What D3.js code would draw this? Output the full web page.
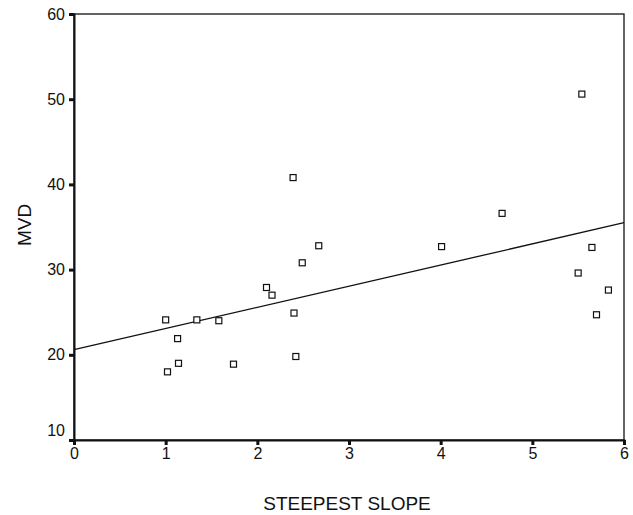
<!DOCTYPE html>
<html>
<head>
<meta charset="utf-8">
<script src="https://cdn.jsdelivr.net/npm/d3@7"></script>
<style>
  body { margin: 0; background: #fff; }
  text { font-family: "Liberation Sans", Arial, sans-serif; fill: #111; }
</style>
</head>
<body>
<div id="chart"></div>
<script>
// steepest slope vs MVD
const slope = [1.0, 1.02, 1.13, 1.14, 1.34, 1.58, 1.74, 2.1, 2.16, 2.39, 2.4, 2.42, 2.49, 2.67, 4.01, 4.67, 5.54, 5.5, 5.65, 5.7, 5.83];
const mvd   = [24.1, 18.0, 21.9, 19.0, 24.1, 24.0, 18.9, 27.9, 27.0, 40.8, 24.9, 19.8, 30.8, 32.8, 32.7, 36.6, 50.6, 29.6, 32.6, 24.7, 27.6];
const xTicks = [0, 1, 2, 3, 4, 5, 6];
const yTicks = [10, 20, 30, 40, 50, 60];
// fitted line, value at x = 0 and x = 6
const fitX = [0, 6];
const fitY = [20.6, 35.5];

const width = 633, height = 515;
const margin = { top: 14, left: 74, bottom: 75, right: 9 };
const iwidth = width - margin.left - margin.right;
const iheight = height - margin.top - margin.bottom;

const svg = d3.select("#chart").append("svg")
  .attr("width", width)
  .attr("height", height);

const g = svg.append("g").attr("transform", `translate(${margin.left},${margin.top})`);

const x = d3.scaleLinear().domain([0, 6]).range([0, iwidth]);
const y = d3.scaleLinear().domain([10, 60]).range([iheight, 0]);

// frame
g.append("rect")
  .attr("width", iwidth).attr("height", iheight)
  .attr("fill", "none").attr("stroke", "#111").attr("stroke-width", 1.3);

const xAxis = g.append("g")
  .attr("transform", `translate(0,${iheight})`)
  .call(d3.axisBottom(x).tickValues(xTicks).tickSize(5).tickPadding(3).tickFormat(d3.format("d")));
const yAxis = g.append("g")
  .call(d3.axisLeft(y).tickValues(yTicks).tickSize(5).tickPadding(4).tickFormat(d3.format("d")));

[xAxis, yAxis].forEach(a => {
  a.select(".domain").attr("stroke", "#111").attr("stroke-width", 2);
  a.selectAll(".tick line").attr("stroke", "#111").attr("stroke-width", 3);
  a.selectAll(".tick text").style("font-size", "16px").attr("fill", "#111");
});
// the 10 label sits a bit higher than its tick
yAxis.selectAll(".tick text").filter(d => d === 10).attr("dy", "-0.3em");

// regression line
g.append("line")
  .attr("x1", x(fitX[0])).attr("y1", y(fitY[0]))
  .attr("x2", x(fitX[1])).attr("y2", y(fitY[1]))
  .attr("stroke", "#111").attr("stroke-width", 1.3);

// points
const pts = slope.map((s, i) => ({ s: s, m: mvd[i] }));
g.selectAll("rect.pt").data(pts).enter().append("rect")
  .attr("class", "pt")
  .attr("x", d => x(d.s) - 3)
  .attr("y", d => y(d.m) - 3)
  .attr("width", 6).attr("height", 6)
  .attr("fill", "#fff").attr("stroke", "#111").attr("stroke-width", 1.2);

// axis titles
svg.append("text")
  .attr("x", 347).attr("y", 510)
  .attr("text-anchor", "middle")
  .style("font-size", "19px")
  .text("STEEPEST SLOPE");

svg.append("text")
  .attr("transform", `translate(31,${margin.top + iheight / 2 - 2}) rotate(-90)`)
  .attr("text-anchor", "middle")
  .style("font-size", "19px")
  .text("MVD");
</script>
</body>
</html>
